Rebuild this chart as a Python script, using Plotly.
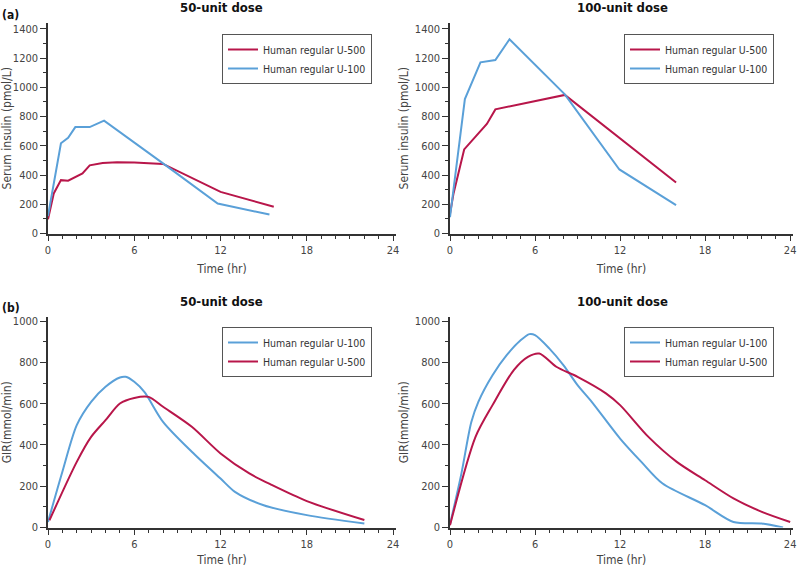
import plotly.graph_objects as go

# serum insulin, 50-unit dose
t_ins50_u500 = [0, 0.4, 0.9, 1.4, 2.4, 2.9, 3.8, 4.8, 6, 7, 8, 12, 15.7]
ins50_u500 = [98, 274, 365, 361, 411, 466, 482, 487, 486, 483, 476, 285, 183]
t_ins50_u100 = [0, 0.9, 1.4, 1.9, 2.9, 3.9, 8, 11.8, 15.4]
ins50_u100 = [120, 617, 655, 728, 728, 772, 480, 205, 130]

# serum insulin, 100-unit dose
t_ins100_u500 = [0, 0.25, 1.0, 2.6, 3.2, 8.1, 15.95]
ins100_u500 = [135, 274, 575, 749, 849, 948, 349]
t_ins100_u100 = [0, 1.05, 2.15, 3.2, 4.2, 8.1, 11.95, 15.95]
ins100_u100 = [112, 920, 1171, 1187, 1329, 952, 438, 194]

# glucose infusion rate, 50-unit dose
t_gir50_u100 = [0, 1, 2, 3, 4, 5, 5.4, 6, 6.7, 8, 10, 12, 13, 15, 18, 22]
gir50_u100 = [27, 270, 496, 609, 682, 727, 730, 706, 657, 512, 367, 237, 173, 108, 60, 19]
t_gir50_u500 = [0.1, 2, 3, 4, 5, 6, 7, 8, 10, 12, 14, 15.5, 18, 22]
gir50_u500 = [35, 318, 439, 520, 601, 628, 633, 585, 488, 359, 262, 208, 128, 36]

# glucose infusion rate, 100-unit dose
t_gir100_u100 = [0, 0.8, 1.5, 2, 3, 4, 5, 5.6, 6, 7, 8, 9, 10, 12, 13.5, 15, 18, 20, 22, 23.5]
gir100_u100 = [15, 260, 510, 609, 738, 835, 908, 937, 932, 868, 787, 690, 609, 431, 318, 213, 108, 27, 19, 0]
t_gir100_u500 = [0, 1.8, 3, 4.5, 5.5, 6.3, 7.5, 9, 11, 12, 14, 16, 18, 20, 22, 24]
gir100_u500 = [11, 439, 593, 763, 827, 843, 779, 730, 650, 593, 439, 318, 229, 141, 76, 27]

RED = "#b8164a"
BLUE = "#5aa0d8"
FONT = "Liberation Sans Narrow, DejaVu Sans Condensed, Liberation Sans, sans-serif"
W, H = 800, 567


def px_x(a, b):
    return [a / W, b / W]


def px_y(top, bottom):
    return [1 - bottom / H, 1 - top / H]


fig = go.Figure()

panels = [
    ("x", "y", "legend", [
        ("Human regular U-500", t_ins50_u500, ins50_u500, RED, "linear"),
        ("Human regular U-100", t_ins50_u100, ins50_u100, BLUE, "linear")]),
    ("x2", "y2", "legend2", [
        ("Human regular U-500", t_ins100_u500, ins100_u500, RED, "linear"),
        ("Human regular U-100", t_ins100_u100, ins100_u100, BLUE, "linear")]),
    ("x3", "y3", "legend3", [
        ("Human regular U-100", t_gir50_u100, gir50_u100, BLUE, "spline"),
        ("Human regular U-500", t_gir50_u500, gir50_u500, RED, "spline")]),
    ("x4", "y4", "legend4", [
        ("Human regular U-100", t_gir100_u100, gir100_u100, BLUE, "spline"),
        ("Human regular U-500", t_gir100_u500, gir100_u500, RED, "spline")]),
]

for xa, ya, lg, traces in panels:
    for name, xs, ys, col, shape in traces:
        fig.add_trace(go.Scatter(
            x=xs, y=ys, name=name, mode="lines", xaxis=xa, yaxis=ya, legend=lg,
            line=dict(color=col, width=2, shape=shape, smoothing=0.8)))

axis_common = dict(
    showgrid=False, zeroline=False, showline=True, linecolor="#333", linewidth=1.5,
    ticks="outside", ticklen=6, tickcolor="#333", automargin=False,
    tickfont=dict(family=FONT, size=11, color="#444"),
)

xdoms = [px_x(48, 396), px_x(450, 793)]
ydoms = [px_y(23, 233.5), px_y(317, 527.5)]

layout = dict(
    width=W, height=H, margin=dict(l=0, r=0, t=0, b=0, autoexpand=False),
    paper_bgcolor="white", plot_bgcolor="white",
    font=dict(family=FONT, size=11, color="#333"),
)

for i in range(4):
    row, col = divmod(i, 2)
    sfx = "" if i == 0 else str(i + 1)
    layout["xaxis" + sfx] = dict(
        axis_common, domain=xdoms[col], range=[0, 24.2], tick0=0, dtick=6,
        anchor="y" + sfx,
        minor=dict(dtick=1, ticks="outside", ticklen=4, tickcolor="#333"),
        title=dict(text="Time (hr)", font=dict(family=FONT, size=12, color="#444"), standoff=8))
    if row == 0:
        yd = dict(range=[0, 1440], dtick=200, minor=dict(dtick=100, ticks="outside", ticklen=3, tickcolor="#333"),
                  title=dict(text="Serum insulin (pmol/L)", font=dict(family=FONT, size=12, color="#444"), standoff=4))
    else:
        yd = dict(range=[0, 1020], dtick=200, minor=dict(dtick=100, ticks="outside", ticklen=3, tickcolor="#333"),
                  title=dict(text="GIR(mmol/min)", font=dict(family=FONT, size=12, color="#444"), standoff=4))
    layout["yaxis" + sfx] = dict(axis_common, domain=ydoms[row], anchor="x" + sfx, **yd)

legend_pos = [(372, 34), (774, 34), (372, 327), (774, 327)]
for i, (lx, ly) in enumerate(legend_pos):
    key = "legend" if i == 0 else "legend" + str(i + 1)
    layout[key] = dict(
        x=lx / W, y=1 - ly / H, xanchor="right", yanchor="top",
        bordercolor="#555", borderwidth=1, bgcolor="white",
        font=dict(family=FONT, size=10.5, color="#333"), itemwidth=30,
        tracegroupgap=0)

fig.update_layout(**layout)

titles = [("50-unit dose", 221, 7), ("100-unit dose", 622, 7),
          ("50-unit dose", 221, 301), ("100-unit dose", 622, 301)]
for text, tx, ty in titles:
    fig.add_annotation(text="<b>%s</b>" % text, x=tx / W, y=1 - ty / H, xref="paper", yref="paper",
                       showarrow=False, xanchor="center", yanchor="middle",
                       font=dict(family=FONT, size=13, color="#111"))
for text, ty in [("(a)", 15), ("(b)", 308)]:
    fig.add_annotation(text="<b>%s</b>" % text, x=0, y=1 - ty / H, xref="paper", yref="paper",
                       showarrow=False, xanchor="left", yanchor="middle",
                       font=dict(family=FONT, size=12, color="#111"))

# page body has a default 8px margin; drop it so the figure sits at the window's corner
fig.write_html("out.html", config={"displayModeBar": False},
               post_script="document.body.style.margin='0';")
